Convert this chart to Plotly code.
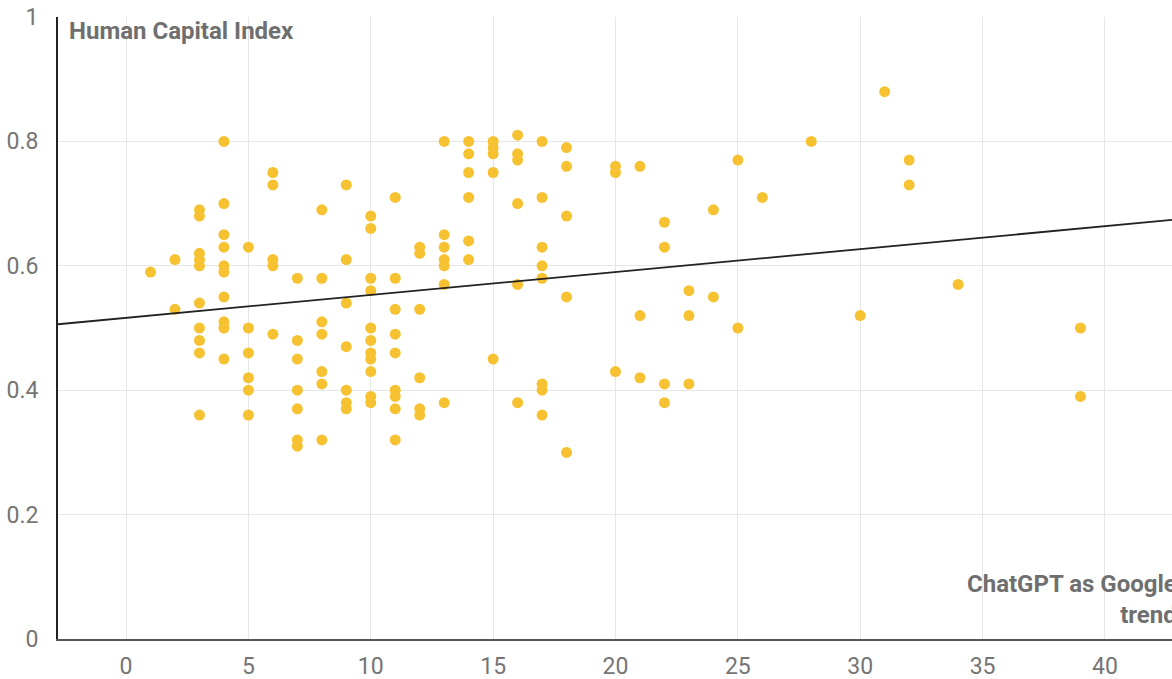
import numpy as np
import plotly.graph_objects as go

# ChatGPT as Google trend (x) vs Human Capital Index (y)
chatgpt_trend = [
    1,
    2, 2,
    3, 3, 3, 3, 3, 3, 3, 3, 3, 3,
    4, 4, 4, 4, 4, 4, 4, 4, 4, 4,
    5, 5, 5, 5, 5, 5,
    6, 6, 6, 6, 6,
    7, 7, 7, 7, 7, 7, 7,
    8, 8, 8, 8, 8, 8, 8,
    9, 9, 9, 9, 9, 9, 9,
    10, 10, 10, 10, 10, 10, 10, 10, 10, 10, 10,
    11, 11, 11, 11, 11, 11, 11, 11, 11,
    12, 12, 12, 12, 12, 12,
    13, 13, 13, 13, 13, 13, 13,
    14, 14, 14, 14, 14, 14,
    15, 15, 15, 15, 15,
    16, 16, 16, 16, 16, 16,
    17, 17, 17, 17, 17, 17, 17, 17,
    18, 18, 18, 18, 18,
    20, 20, 20,
    21, 21, 21,
    22, 22, 22, 22,
    23, 23, 23,
    24, 24,
    25, 25,
    26,
    28,
    30,
    31,
    32, 32,
    34,
    39, 39,
]
human_capital = [
    0.59,
    0.61, 0.53,
    0.69, 0.68, 0.62, 0.61, 0.60, 0.54, 0.50, 0.48, 0.46, 0.36,
    0.80, 0.70, 0.65, 0.63, 0.60, 0.59, 0.55, 0.51, 0.50, 0.45,
    0.63, 0.50, 0.46, 0.42, 0.40, 0.36,
    0.75, 0.73, 0.61, 0.60, 0.49,
    0.58, 0.48, 0.45, 0.40, 0.37, 0.32, 0.31,
    0.69, 0.58, 0.51, 0.49, 0.43, 0.41, 0.32,
    0.73, 0.61, 0.54, 0.47, 0.40, 0.38, 0.37,
    0.68, 0.66, 0.58, 0.56, 0.50, 0.48, 0.46, 0.45, 0.43, 0.39, 0.38,
    0.71, 0.58, 0.53, 0.49, 0.46, 0.40, 0.39, 0.37, 0.32,
    0.63, 0.62, 0.53, 0.42, 0.37, 0.36,
    0.80, 0.65, 0.63, 0.61, 0.60, 0.57, 0.38,
    0.80, 0.78, 0.75, 0.71, 0.64, 0.61,
    0.80, 0.79, 0.78, 0.75, 0.45,
    0.81, 0.78, 0.77, 0.70, 0.57, 0.38,
    0.80, 0.71, 0.63, 0.60, 0.58, 0.41, 0.40, 0.36,
    0.79, 0.76, 0.68, 0.55, 0.30,
    0.76, 0.75, 0.43,
    0.76, 0.52, 0.42,
    0.67, 0.63, 0.41, 0.38,
    0.56, 0.52, 0.41,
    0.69, 0.55,
    0.77, 0.50,
    0.71,
    0.80,
    0.52,
    0.88,
    0.77, 0.73,
    0.57,
    0.50, 0.39,
]

x_title = "ChatGPT as Google<br>trend"
y_title = "Human Capital Index"
x_ticks = [0, 5, 10, 15, 20, 25, 30, 35, 40]
y_ticks = [0, 0.2, 0.4, 0.6, 0.8, 1]
y_tick_text = ["0", "0.2", "0.4", "0.6", "0.8", "1"]

x_range = [-2.78, 42.74]

# linear trendline (least squares)
slope, intercept = np.polyfit(chatgpt_trend, human_capital, 1)
trend_x = np.array(x_range)
trend_y = slope * trend_x + intercept

fig = go.Figure()
fig.add_trace(go.Scatter(
    x=chatgpt_trend, y=human_capital, mode="markers",
    marker=dict(color="#F6C231", size=11, line=dict(width=0)),
    hoverinfo="x+y", showlegend=False,
))
fig.add_trace(go.Scatter(
    x=trend_x, y=trend_y, mode="lines",
    line=dict(color="#222222", width=1.8),
    hoverinfo="skip", showlegend=False,
))

tick_font = dict(family="Roboto, Arial, sans-serif", size=23, color="#757575")
title_font = dict(family="Roboto, Arial, sans-serif", size=24, color="#6f6f6f", weight="bold")

fig.update_layout(
    width=1172, height=679,
    margin=dict(l=58, r=0, t=17, b=40),
    paper_bgcolor="white", plot_bgcolor="white",
    font=tick_font,
    xaxis=dict(
        range=x_range, tickvals=x_ticks, showgrid=True, gridcolor="#e6e6e6", gridwidth=1,
        zeroline=False, showline=True, linecolor="#555555", linewidth=2,
        tickfont=tick_font, ticks="", ticklabelstandoff=5,
    ),
    yaxis=dict(
        range=[0, 1], tickvals=y_ticks, ticktext=y_tick_text, showgrid=True,
        gridcolor="#e6e6e6", gridwidth=1, zeroline=False, showline=True,
        linecolor="#222222", linewidth=2, tickfont=tick_font, ticks="",
        ticklabelstandoff=13,
    ),
    annotations=[
        dict(text=y_title, xref="paper", yref="paper", x=0, y=1, xanchor="left",
             yanchor="top", xshift=9, yshift=2, showarrow=False, font=title_font),
        dict(text=x_title, xref="paper", yref="paper", x=1, y=0, xanchor="right",
             yanchor="bottom", xshift=7, yshift=8, align="right", showarrow=False,
             font=title_font),
    ],
)

fig.write_html("out.html", config={"displayModeBar": False},
               post_script="document.body.style.margin='0px';")
